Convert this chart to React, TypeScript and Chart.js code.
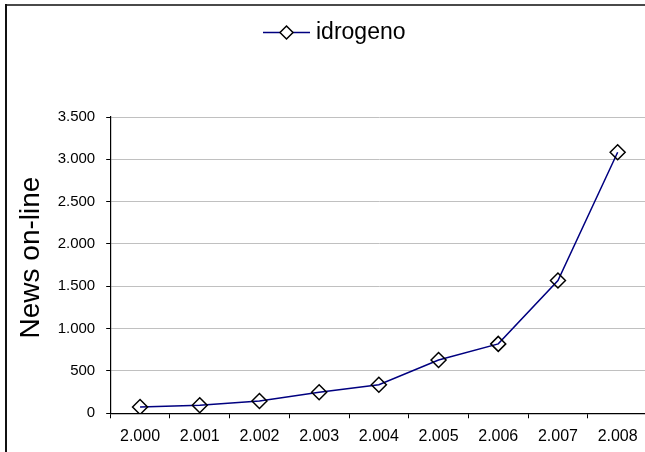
import React, { useEffect, useRef } from "react";
import { Chart, registerables } from "chart.js";

Chart.register(...registerables);

const years = ["2.000", "2.001", "2.002", "2.003", "2.004", "2.005", "2.006", "2.007", "2.008"];
const idrogeno = [75, 95, 145, 248, 338, 629, 820, 1568, 3084];
const seriesName = "idrogeno";
const yTitle = "News on-line";
const yMax = 3500;
const yStep = 500;

const FONT = "'Liberation Sans', Arial, sans-serif";

function fmt(v: number): string {
  return String(v).replace(/\B(?=(\d{3})+(?!\d))/g, ".");
}

const decorPlugin = {
  id: "decor",
  beforeDraw(chart: any) {
    const ctx = chart.ctx;
    ctx.save();
    ctx.fillStyle = "#fff";
    ctx.fillRect(0, 0, chart.width, chart.height);
    ctx.restore();
  },
  afterDraw(chart: any) {
    const ctx = chart.ctx;
    ctx.save();
    // outer border (top and left visible)
    ctx.fillStyle = "#4a4a4a";
    ctx.fillRect(5, 4, chart.width, 2);
    ctx.fillStyle = "#111";
    ctx.fillRect(5, 4, 2, chart.height);

    // legend
    const ly = 32.5;
    ctx.strokeStyle = "#000080";
    ctx.lineWidth = 1.5;
    ctx.beginPath();
    ctx.moveTo(263, ly);
    ctx.lineTo(310, ly);
    ctx.stroke();
    const cx = 286.5, r = 6.5;
    ctx.strokeStyle = "#000";
    ctx.fillStyle = "#fff";
    ctx.beginPath();
    ctx.moveTo(cx, ly - r);
    ctx.lineTo(cx + r, ly);
    ctx.lineTo(cx, ly + r);
    ctx.lineTo(cx - r, ly);
    ctx.closePath();
    ctx.fill();
    ctx.stroke();
    ctx.fillStyle = "#000";
    ctx.font = `23px ${FONT}`;
    ctx.textAlign = "left";
    ctx.textBaseline = "alphabetic";
    ctx.fillText(seriesName, 316, 38.5);

    // y axis title
    ctx.translate(31, 257.5);
    ctx.rotate(-Math.PI / 2);
    ctx.font = `28px ${FONT}`;
    ctx.textAlign = "center";
    ctx.textBaseline = "middle";
    ctx.fillText(yTitle, 0, 0);
    ctx.restore();
  },
};

export default function App() {
  const ref = useRef<HTMLCanvasElement | null>(null);
  useEffect(() => {
    document.body.style.margin = "0";
    document.body.style.overflow = "hidden";
    const canvas = ref.current!;
    const chart = new Chart(canvas, {
      type: "line",
      data: {
        labels: years,
        datasets: [
          {
            label: seriesName,
            data: idrogeno,
            borderColor: "#000080",
            borderWidth: 1.5,
            tension: 0,
            pointStyle: "rectRot",
            pointRadius: 7.5,
            pointBorderColor: "#000",
            pointBackgroundColor: "rgba(0,0,0,0)",
            pointBorderWidth: 1.5,
          },
        ],
      },
      options: {
        responsive: false,
        animation: false,
        devicePixelRatio: 1,
        layout: { padding: { left: 0, right: 12.5, top: 117, bottom: 0 } },
        plugins: {
          legend: { display: false },
          tooltip: { enabled: false },
        },
        scales: {
          x: {
            offset: true,
            grid: {
              display: true,
              offset: true,
              drawOnChartArea: false,
              tickLength: 5,
              tickColor: "#000",
            },
            border: { color: "#000", width: 1.2 },
            ticks: {
              color: "#000",
              font: { family: FONT, size: 16 },
              padding: 9,
              maxRotation: 0,
              autoSkip: false,
            },
            afterFit(scale: any) {
              scale.height = 38.7;
            },
          },
          y: {
            min: 0,
            max: yMax,
            ticks: {
              stepSize: yStep,
              color: "#000",
              font: { family: FONT, size: 15 },
              padding: 11,
              callback: (v: any) => fmt(Number(v)),
            },
            grid: {
              color: "#c0c0c0",
              lineWidth: 1,
              tickLength: 4,
              tickColor: "#000",
            },
            border: { color: "#000", width: 1.2 },
            afterFit(scale: any) {
              scale.width = 110.2;
            },
          },
        },
      },
      plugins: [decorPlugin],
    });
    return () => chart.destroy();
  }, []);

  return (
    <div
      style={{
        position: "fixed",
        left: 0,
        top: 0,
        width: 645,
        height: 452,
        overflow: "hidden",
        background: "#fff",
      }}
    >
      <canvas ref={ref} width={660} height={452} style={{ display: "block", width: 660, height: 452 }} />
    </div>
  );
}
